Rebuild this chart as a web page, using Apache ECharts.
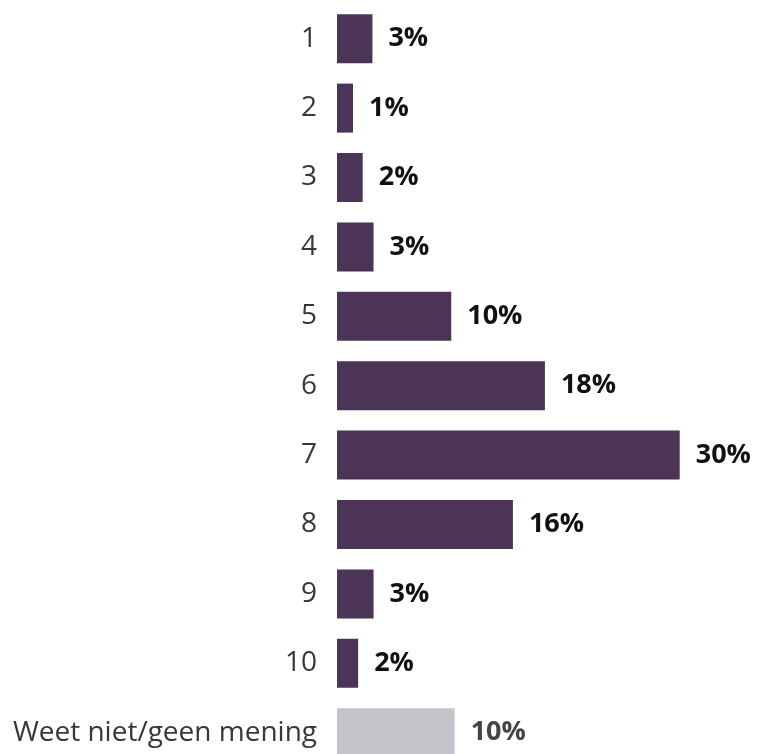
<!DOCTYPE html>
<html><head><meta charset="utf-8">
<script src="https://cdn.jsdelivr.net/npm/echarts@6/dist/echarts.min.js"></script>
<style>html,body{margin:0;padding:0;background:#fff}#c{width:757px;height:754px}</style>
</head><body><div id="c"></div>
<script>
const categories = ['1','2','3','4','5','6','7','8','9','10','Weet niet/geen mening'];
const values = [3.1, 1.4, 2.25, 3.2, 10.0, 18.2, 30.0, 15.4, 3.2, 1.85, 10.3];
const labels = ['3%','1%','2%','3%','10%','18%','30%','16%','3%','2%','10%'];
const barColor = '#4b3455';
const grayColor = '#c5c4ca';

const chart = echarts.init(document.getElementById('c'));
const data = values.map((v, i) => {
  const isGray = i === values.length - 1;
  return {
    value: v,
    itemStyle: { color: isGray ? grayColor : barColor },
    label: { color: isGray ? '#444' : '#111' }
  };
});
chart.setOption({
  animation: false,
  grid: { left: 337, top: 4, width: 342.7, bottom: -13.4, containLabel: false, outerBoundsMode: 'none' },
  xAxis: { type: 'value', min: 0, max: 30, show: false },
  yAxis: {
    type: 'category', inverse: true, data: categories,
    axisLine: { show: false }, axisTick: { show: false },
    axisLabel: { margin: 20, fontSize: 28, color: '#383838', fontFamily: 'Open Sans', fontWeight: 'normal' }
  },
  series: [{
    type: 'bar', data: data, barWidth: 49,
    label: {
      show: true, position: 'right', distance: 16,
      fontSize: 27, fontWeight: 'bold', fontFamily: 'Open Sans',
      formatter: p => labels[p.dataIndex]
    }
  }]
});
</script></body></html>
